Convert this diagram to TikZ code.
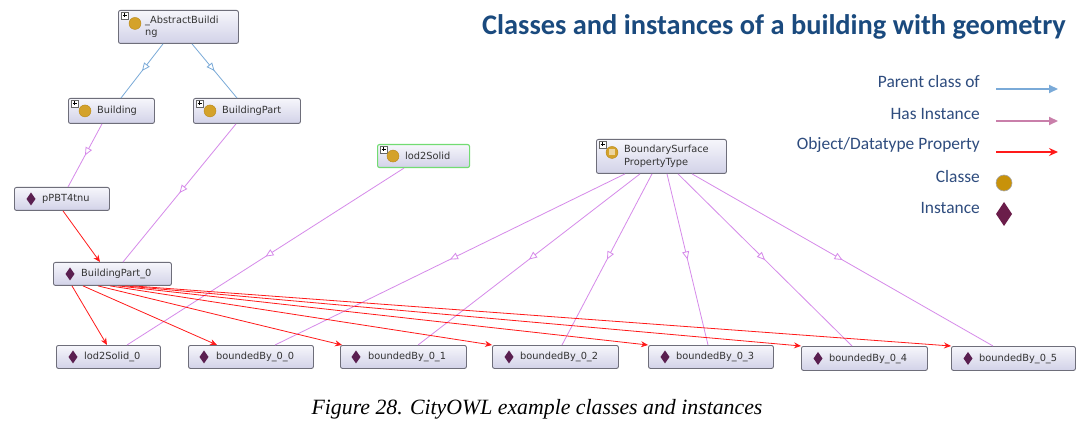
\documentclass[tikz,border=0pt]{standalone}
\usepackage{fontspec}
\setmainfont{DejaVu Sans}
\newfontfamily\titlefont{Carlito}
\newfontfamily\capfont{Liberation Serif}
\usetikzlibrary{arrows.meta,decorations.markings}
\definecolor{boxborder}{HTML}{6E6E7A}
\definecolor{boxtop}{HTML}{F6F6FB}
\definecolor{boxbot}{HTML}{D2D2E8}
\definecolor{instcol}{HTML}{5A1F50}
\definecolor{clscol}{HTML}{D4A22A}
\definecolor{clsborder}{HTML}{B8881A}
\definecolor{bluecol}{HTML}{7AAAD8}
\definecolor{violetcol}{HTML}{D68AEA}
\definecolor{redcol}{HTML}{FF1A1A}
\definecolor{pinkcol}{HTML}{C97FAA}
\definecolor{titlecol}{HTML}{1A4A7E}
\definecolor{legcol}{HTML}{2E4C7E}
\definecolor{greencol}{HTML}{72DC72}
\definecolor{legcls}{HTML}{C8920A}
\definecolor{leginst}{HTML}{6B1D4A}
\tikzset{
  nbox/.style={draw=boxborder, line width=0.9pt, rounded corners=2pt,
    top color=boxtop, bottom color=boxbot, inner sep=0pt, anchor=north west},
  ntext/.style={anchor=west, inner sep=0pt, font=\fontsize{9.8}{12.5}\selectfont, text=black!80},
  plusbox/.style={draw=gray!80!black, fill=white, line width=0.4pt},
  midtri/.style={postaction={decorate, decoration={markings,
      mark=at position 0.5 with {\arrow{Triangle[length=8pt,width=7pt,fill=white]}}}}},
  parentedge/.style={draw=bluecol, line width=0.8pt, midtri},
  instedge/.style={draw=violetcol, line width=0.8pt, midtri},
  propedge/.style={draw=redcol, line width=0.8pt, -{Stealth[length=7pt,width=6pt]}},
}
\newcommand{\diamat}[2]{\fill[instcol] ([xshift=#2pt]#1.west) ++(0,-6.5) -- ++(4.5,6.5) -- ++(-4.5,6.5) -- ++(-4.5,-6.5) -- cycle;}
\newcommand{\clsat}[3]{\filldraw[fill=clscol, draw=clsborder, line width=0.4pt] ([xshift=#2pt,yshift=#3pt]#1.west) circle (6);}
\newcommand{\plusat}[1]{\draw[plusbox] ([xshift=3pt,yshift=-2pt]#1.north west) rectangle ++(7,7);
  \draw[line width=0.5pt] ([xshift=4.5pt,yshift=-5.5pt]#1.north west) -- ++(4,0);
  \draw[line width=0.5pt] ([xshift=6.5pt,yshift=-3.5pt]#1.north west) -- ++(0,4);}
\begin{document}
\begin{tikzpicture}[x=1pt,y=-1pt]
\useasboundingbox[fill=white] (0,0) rectangle (1086,435);

% class nodes
\node[nbox, minimum width=120pt, minimum height=33pt] (ab) at (118,10) {};
\node[nbox, minimum width=86pt, minimum height=25pt] (bld) at (68,98) {};
\node[nbox, minimum width=107pt, minimum height=25pt] (bpc) at (193,98) {};
\node[nbox, draw=greencol, line width=1.1pt, minimum width=92pt, minimum height=23pt] (lod) at (377,144) {};
\node[nbox, minimum width=130pt, minimum height=34pt] (bsp) at (596,139) {};
% instance nodes
\node[nbox, minimum width=95pt, minimum height=23pt] (ppbt) at (14,187) {};
\node[nbox, minimum width=118pt, minimum height=23pt] (bp0) at (53,262) {};
\node[nbox, minimum width=104pt, minimum height=23pt] (l0) at (56,345) {};
\node[nbox, minimum width=125pt, minimum height=23pt] (b0) at (188,345) {};
\node[nbox, minimum width=126pt, minimum height=23pt] (b1) at (340,345) {};
\node[nbox, minimum width=126pt, minimum height=23pt] (b2) at (492,345) {};
\node[nbox, minimum width=125pt, minimum height=23pt] (b3) at (648,345) {};
\node[nbox, minimum width=126pt, minimum height=24pt] (b4) at (801,346) {};
\node[nbox, minimum width=124pt, minimum height=24pt] (b5) at (951,346) {};

% class labels and icons
\plusat{ab}\clsat{ab}{17}{3.5}
\node[ntext, align=left, anchor=north west] (tab) at ([xshift=27pt,yshift=-5.5pt]ab.north west) {\_AbstractBuildi\\ng};
\plusat{bld}\clsat{bld}{17}{0}
\node[ntext] (tbld) at ([xshift=29pt]bld.west) {Building};
\plusat{bpc}\clsat{bpc}{17}{0}
\node[ntext] (tbpc) at ([xshift=29pt]bpc.west) {BuildingPart};
\plusat{lod}\clsat{lod}{16}{0}
\node[ntext] (tlod) at ([xshift=28pt]lod.west) {lod2Solid};
\plusat{bsp}\clsat{bsp}{16}{4}
\fill[clscol!45!white] ([xshift=13pt,yshift=1pt]bsp.west) rectangle ++(6,-6);
\node[ntext, align=left, anchor=north west] (tbsp) at ([xshift=28pt,yshift=-6pt]bsp.north west) {BoundarySurface\\PropertyType};

% instance labels and icons
\diamat{ppbt}{17}\node[ntext] (tppbt) at ([xshift=28pt]ppbt.west) {pPBT4tnu};
\diamat{bp0}{17}\node[ntext] (tbp0) at ([xshift=28pt]bp0.west) {BuildingPart\_0};
\diamat{l0}{17}\node[ntext] (tl0) at ([xshift=28pt]l0.west) {lod2Solid\_0};
\diamat{b0}{16}\node[ntext] (tb0) at ([xshift=28pt]b0.west) {boundedBy\_0\_0};
\diamat{b1}{16}\node[ntext] (tb1) at ([xshift=28pt]b1.west) {boundedBy\_0\_1};
\diamat{b2}{17}\node[ntext] (tb2) at ([xshift=28pt]b2.west) {boundedBy\_0\_2};
\diamat{b3}{17}\node[ntext] (tb3) at ([xshift=28pt]b3.west) {boundedBy\_0\_3};
\diamat{b4}{17}\node[ntext] (tb4) at ([xshift=28pt]b4.west) {boundedBy\_0\_4};
\diamat{b5}{17}\node[ntext] (tb5) at ([xshift=28pt]b5.west) {boundedBy\_0\_5};

% parent class edges
\draw[parentedge] ([xshift=45pt]ab.south west) -- ([xshift=53pt]bld.north west);
\draw[parentedge] ([xshift=74pt]ab.south west) -- ([xshift=44pt]bpc.north west);
% has instance edges
\draw[instedge] ([xshift=34pt]bld.south west) -- ([xshift=54pt]ppbt.north west);
\draw[instedge] ([xshift=43pt]bpc.south west) -- ([xshift=70pt]bp0.north west);
\draw[instedge] ([xshift=27pt]lod.south west) -- ([xshift=71pt]l0.north west);
\draw[instedge] ([xshift=29pt]bsp.south west) -- ([xshift=87pt]b0.north west);
\draw[instedge] ([xshift=44pt]bsp.south west) -- ([xshift=78pt]b1.north west);
\draw[instedge] ([xshift=56pt]bsp.south west) -- ([xshift=70pt]b2.north west);
\draw[instedge] ([xshift=71pt]bsp.south west) -- ([xshift=60pt]b3.north west);
\draw[instedge] ([xshift=82pt]bsp.south west) -- ([xshift=51pt]b4.north west);
\draw[instedge] ([xshift=96pt]bsp.south west) -- ([xshift=42pt]b5.north west);
% property edges
\draw[propedge] ([xshift=49pt]ppbt.south west) -- ([xshift=47pt]bp0.north west);
\draw[propedge] ([xshift=19pt]bp0.south west) -- ([xshift=51pt]l0.north west);
\draw[propedge] ([xshift=30pt]bp0.south west) -- ([xshift=29pt]b0.north west);
\draw[propedge] ([xshift=45pt]bp0.south west) -- ([xshift=2pt]b1.north west);
\draw[propedge] ([xshift=57pt]bp0.south west) -- (b2.north west);
\draw[propedge] ([xshift=65pt]bp0.south west) -- (b3.north west);
\draw[propedge] ([xshift=72pt]bp0.south west) -- (b4.north west);
\draw[propedge] ([xshift=80pt]bp0.south west) -- (b5.north west);

% title
\node[anchor=east, inner sep=0pt, font=\titlefont\bfseries\fontsize{28.4}{32}\selectfont, text=titlecol] (title) at (1066,27) {Classes and instances of a building with geometry};

% legend
\tikzset{legtext/.style={anchor=east, inner sep=0pt, font=\titlefont\fontsize{17.4}{20}\selectfont, text=legcol}}
\node[legtext] (lg1) at (980,82) {Parent class of};
\node[legtext] (lg2) at (980,114) {Has Instance};
\node[legtext] (lg3) at (980,145) {Object/Datatype Property};
\node[legtext] (lg4) at (980,177) {Classe};
\node[legtext] (lg5) at (980,208) {Instance};
\coordinate (a1s) at (996,89); \coordinate (a1e) at (1058,89);
\coordinate (a2s) at (996,121); \coordinate (a2e) at (1058,121);
\coordinate (a3s) at (996,152); \coordinate (a3e) at (1058,152);
\draw[bluecol, line width=1.8pt, -{Triangle[length=9pt,width=8pt]}] (a1s) -- (a1e);
\draw[pinkcol, line width=1.8pt, -{Triangle[length=9pt,width=8pt]}] (a2s) -- (a2e);
\draw[redcol, line width=1.6pt, -{Stealth[length=9pt,width=8pt]}] (a3s) -- (a3e);
\filldraw[fill=legcls, draw=gray!70, line width=0.6pt] (1004,183) circle (8);
\fill[leginst] (1004,202) -- (1012,214) -- (1004,226) -- (996,214) -- cycle;

% caption
\node[inner sep=0pt, font=\capfont\itshape\fontsize{21.8}{24}\selectfont] (cap) at (537,409) {Figure 28. CityOWL example classes and instances};
\end{tikzpicture}
\end{document}
